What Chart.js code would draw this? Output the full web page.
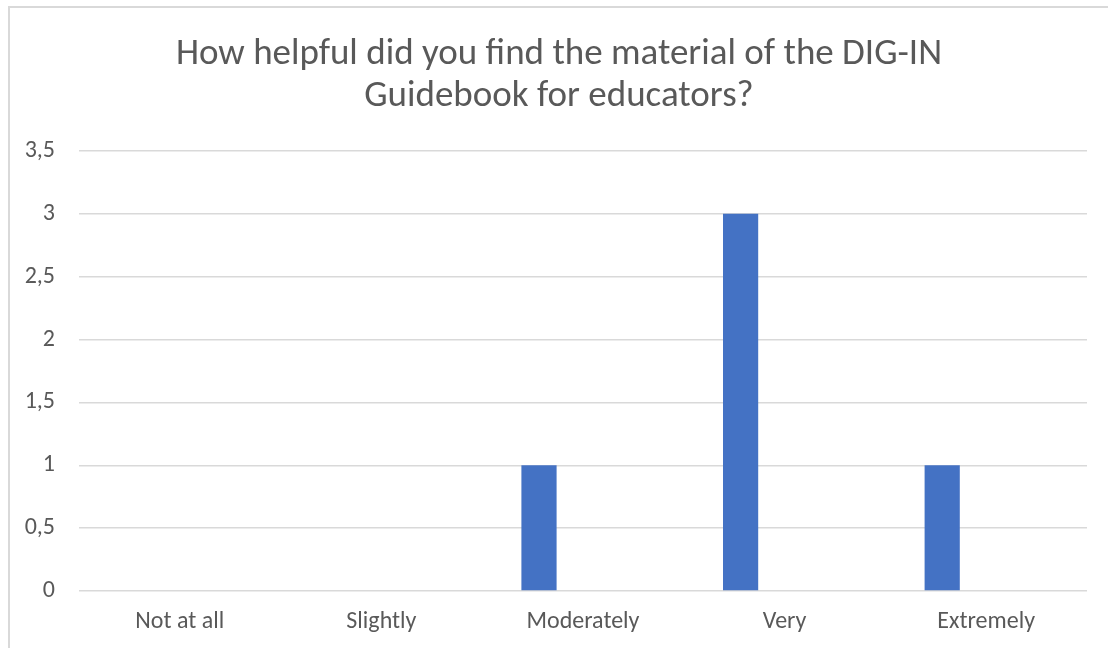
<!DOCTYPE html>
<html>
<head>
<meta charset="utf-8">
<script src="https://cdn.jsdelivr.net/npm/chart.js@4/dist/chart.umd.min.js"></script>
<style>
  html, body { margin: 0; padding: 0; background: #ffffff; overflow: hidden; }
  #wrap { position: relative; width: 1108px; height: 648px; }
  #frame { position: absolute; left: 8px; top: 6px; width: 1120px; height: 660px; border: 2px solid #d9d9d9; box-sizing: border-box; }
  canvas { position: absolute; left: 0; top: 0; }
</style>
</head>
<body>
<div id="wrap">
  <div id="frame"></div>
  <canvas id="c" width="1108" height="648"></canvas>
</div>
<script>
const titleLines = ["How helpful did you find the material of the DIG-IN", "Guidebook for educators?"];
const categories = ["Not at all", "Slightly", "Moderately", "Very", "Extremely"];
const series1 = [0, 0, 1, 3, 1];
const series2 = [null, null, null, null, null];
const yTicks = [0, 0.5, 1, 1.5, 2, 2.5, 3, 3.5];

const FONT = 'Calibri, Carlito, "Open Sans", sans-serif';
const TEXT = '#595959';

// let the y tick labels extend left of the axis box (no clipping)
const noLabelClip = {
  id: 'noLabelClip',
  beforeDraw(chart) {
    const y = chart.scales.y;
    if (y) y._computeLabelArea = () => undefined;
  }
};

new Chart(document.getElementById('c'), {
  type: 'bar',
  data: {
    labels: categories,
    datasets: [
      { label: 'Series 1', data: series1, backgroundColor: '#4472C4', borderWidth: 0,
        categoryPercentage: 0.873, barPercentage: 0.40 },
      { label: 'Series 2', data: series2, backgroundColor: '#ED7D31', borderWidth: 0,
        categoryPercentage: 0.873, barPercentage: 0.40 }
    ]
  },
  plugins: [noLabelClip],
  options: {
    responsive: false,
    animation: false,
    layout: { padding: { left: 31, right: 21, top: 0, bottom: 0 } },
    plugins: {
      legend: { display: false },
      tooltip: { enabled: false },
      title: {
        display: true,
        text: titleLines,
        color: TEXT,
        font: { family: FONT, size: 37, weight: 'normal', lineHeight: 1.135 },
        padding: { top: 34, bottom: 33 }
      }
    },
    scales: {
      x: {
        afterFit: (s) => { s.height = 57; },
        grid: { display: false, drawTicks: false },
        border: { display: false },
        ticks: { color: TEXT, font: { family: FONT, size: 24 }, padding: 17, maxRotation: 0 }
      },
      y: {
        min: 0, max: 3.5,
        afterFit: (s) => { s.width = 48; },
        afterBuildTicks: (s) => { s.ticks = yTicks.map(v => ({ value: v })); },
        grid: { color: '#d9d9d9', lineWidth: 1.5, drawTicks: false },
        border: { display: false },
        ticks: {
          color: TEXT, font: { family: FONT, size: 24 }, padding: 24,
          callback: (v) => String(v).replace('.', ',')
        }
      }
    }
  }
});
</script>
</body>
</html>
